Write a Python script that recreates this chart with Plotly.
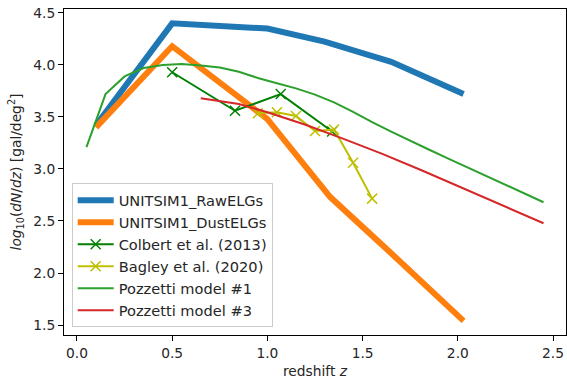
import plotly.graph_objects as go

# ---- data ----
raw_z = [0.1, 0.5, 1.0, 1.3, 1.65, 2.03]
raw_v = [3.42, 4.40, 4.35, 4.225, 4.03, 3.72]

dust_z = [0.1, 0.5, 1.0, 1.33, 1.65, 2.03]
dust_v = [3.40, 4.18, 3.48, 2.73, 2.19, 1.54]

colbert_z = [0.5, 0.83, 1.07, 1.34]
colbert_v = [3.93, 3.56, 3.72, 3.36]

bagley_z = [0.95, 1.05, 1.15, 1.25, 1.35, 1.45, 1.55]
bagley_v = [3.535, 3.545, 3.51, 3.365, 3.38, 3.06, 2.715]

poz1_z = [0.05, 0.15, 0.25, 0.35, 0.45, 0.55, 0.65, 0.75, 0.85, 0.95, 1.05, 1.15,
          1.25, 1.35, 1.45, 1.55, 1.65, 1.75, 1.85, 1.95, 2.05, 2.15, 2.25, 2.35, 2.45]
poz1_v = [3.21, 3.72, 3.89, 3.97, 4.00, 4.01, 3.995, 3.975, 3.935, 3.875, 3.825, 3.775,
          3.715, 3.64, 3.55, 3.45, 3.36, 3.27, 3.185, 3.10, 3.015, 2.93, 2.85, 2.765, 2.68]

poz3_z = [0.65, 0.75, 0.85, 1.0, 1.2, 1.4, 1.6, 1.8, 2.0, 2.2, 2.45]
poz3_v = [3.68, 3.655, 3.625, 3.545, 3.425, 3.29, 3.148, 2.995, 2.835, 2.675, 2.478]

x_ticks = [0.0, 0.5, 1.0, 1.5, 2.0, 2.5]
y_ticks = [1.5, 2.0, 2.5, 3.0, 3.5, 4.0, 4.5]

FONT = "DejaVu Sans"

fig = go.Figure()
fig.add_trace(go.Scatter(x=raw_z, y=raw_v, mode="lines", name="UNITSIM1_RawELGs",
                         line=dict(color="#1f77b4", width=6)))
fig.add_trace(go.Scatter(x=dust_z, y=dust_v, mode="lines", name="UNITSIM1_DustELGs",
                         line=dict(color="#ff7f0e", width=6)))
fig.add_trace(go.Scatter(x=colbert_z, y=colbert_v, mode="lines+markers", name="Colbert et al. (2013)",
                         line=dict(color="#008000", width=2),
                         marker=dict(symbol="x-thin", size=10, line=dict(color="#008000", width=1.5))))
fig.add_trace(go.Scatter(x=bagley_z, y=bagley_v, mode="lines+markers", name="Bagley et al. (2020)",
                         line=dict(color="#bfbf00", width=2),
                         marker=dict(symbol="x-thin", size=10, line=dict(color="#bfbf00", width=1.5))))
fig.add_trace(go.Scatter(x=poz1_z, y=poz1_v, mode="lines", name="Pozzetti model #1",
                         line=dict(color="#2ca02c", width=2)))
fig.add_trace(go.Scatter(x=poz3_z, y=poz3_v, mode="lines", name="Pozzetti model #3",
                         line=dict(color="#d62728", width=2)))

axis_common = dict(showgrid=False, zeroline=False, showline=True, linecolor="black", linewidth=1,
                   mirror=True, ticks="outside", ticklen=5, tickwidth=1, tickcolor="black",
                   tickfont=dict(family=FONT, size=13.8, color="#262626"))

fig.update_xaxes(range=[-0.068, 2.568], tickvals=x_ticks, ticktext=[f"{t:.1f}" for t in x_ticks],
                 title=dict(text="redshift <i>z</i>", font=dict(family=FONT, size=13.8, color="#262626"),
                            standoff=6),
                 **axis_common)
fig.update_yaxes(range=[1.404, 4.538], tickvals=y_ticks, ticktext=[f"{t:.1f}" for t in y_ticks],
                 title=dict(text="<i>log</i><sub>10</sub>(<i>dN</i>/<i>dz</i>) [gal/deg<sup>2</sup>]",
                            font=dict(family=FONT, size=13.8, color="#262626"), standoff=8),
                 **axis_common)

fig.update_layout(
    width=567, height=381,
    margin=dict(l=64, r=1, t=9, b=46, pad=0),
    paper_bgcolor="white", plot_bgcolor="white",
    font=dict(family=FONT, color="#262626"),
    legend=dict(x=0.0153, y=0.0236, xanchor="left", yanchor="bottom",
                bgcolor="rgba(255,255,255,0.8)", bordercolor="#cccccc", borderwidth=1,
                font=dict(family=FONT, size=14.6, color="#262626"),
                tracegroupgap=0, itemwidth=36),
    showlegend=True,
)

fig.write_html("out.html")
